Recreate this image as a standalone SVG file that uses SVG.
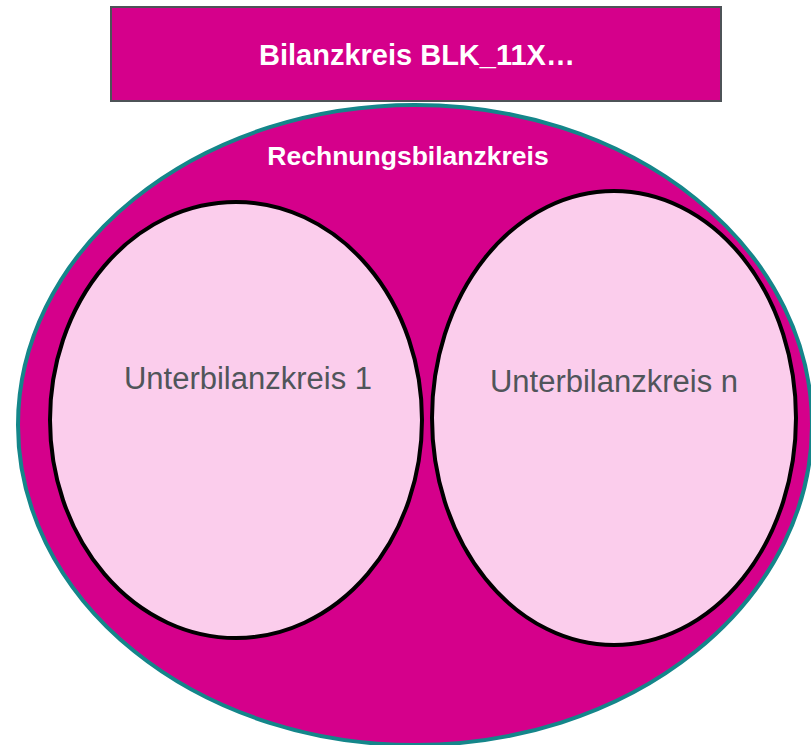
<svg xmlns="http://www.w3.org/2000/svg" width="811" height="745" viewBox="0 0 811 745">
  <style>
    .title { font-family: "Liberation Sans", Arial, sans-serif; font-weight: bold; fill: #ffffff; text-anchor: middle; }
    .sub { font-family: "Liberation Sans", Arial, sans-serif; fill: #50555a; text-anchor: middle; font-size: 31px; }
    .inner { fill: #fbcdec; stroke: #000000; stroke-width: 4; }
  </style>
  <rect width="811" height="745" fill="#ffffff"/>

  <!-- balancing group header -->
  <g id="bilanzkreis">
    <rect x="111" y="7" width="610" height="94" fill="#d5008b" stroke="#4d5357" stroke-width="2"/>
    <text class="title" x="417" y="65" font-size="29">Bilanzkreis BLK_11X…</text>
  </g>

  <!-- invoice balancing group -->
  <g id="rechnungsbilanzkreis">
    <ellipse cx="415" cy="425" rx="397" ry="320" fill="#d5008b" stroke="#14868a" stroke-width="4"/>
    <text class="title" x="408" y="165" font-size="26.5">Rechnungsbilanzkreis</text>
  </g>

  <g id="unterbilanzkreis-1">
    <ellipse class="inner" cx="236" cy="420" rx="186" ry="218"/>
    <text class="sub" x="248" y="389">Unterbilanzkreis 1</text>
  </g>

  <g id="unterbilanzkreis-n">
    <ellipse class="inner" cx="614" cy="418" rx="182" ry="227"/>
    <text class="sub" x="614" y="392">Unterbilanzkreis n</text>
  </g>

  <g id="connectors"/>
</svg>
